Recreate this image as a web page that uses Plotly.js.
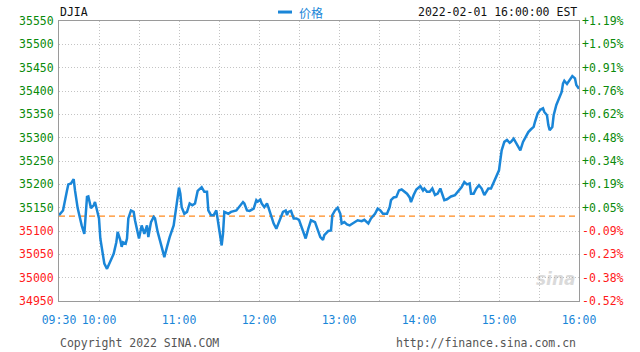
<!DOCTYPE html>
<html>
<head>
<meta charset="utf-8">
<script src="https://cdn.plot.ly/plotly-3.0.1.min.js"></script>
<style>html,body{margin:0;padding:0;background:#fff;}#chart{width:640px;height:352px;}</style>
</head>
<body>
<div id="chart"></div>
<script>
const tradeDate = '2022-02-01';
const prevClose = 35131.86;
const times = [
'09:30','09:33','09:36','09:37','09:39','09:41','09:42','09:44','09:47','09:49','09:51','09:52','09:54','09:56','09:57','09:58',
'10:00','10:01','10:03','10:04','10:06','10:08','10:11','10:13','10:14','10:16','10:17','10:18','10:20','10:21','10:22','10:24','10:26','10:27','10:29',
'10:30','10:32','10:34','10:36','10:37','10:39','10:41','10:42','10:44','10:47','10:49','10:51','10:53','10:56','10:57','10:59',
'11:00','11:01','11:02','11:04','11:06','11:08','11:10','11:12','11:14','11:17','11:19','11:21','11:22','11:24','11:26','11:28','11:29',
'11:31','11:32','11:33','11:34','11:37','11:39','11:43','11:46','11:48','11:49','11:51','11:53','11:56','11:58','11:59',
'12:01','12:02','12:04','12:06','12:07','12:09','12:11','12:13','12:14','12:16','12:18','12:20','12:21','12:22','12:24','12:26','12:28',
'12:30','12:32','12:34','12:35','12:37','12:39','12:42','12:44','12:46','12:48','12:49','12:52','12:54','12:55','12:57','12:59',
'13:01','13:02','13:04','13:06','13:08','13:09','13:12','13:14','13:17','13:19','13:22','13:24','13:27','13:29',
'13:31','13:33','13:36','13:38','13:39','13:41','13:43','13:45','13:47','13:49','13:51','13:53','13:54','13:56','13:58',
'14:01','14:03','14:04','14:06','14:08','14:10','14:12','14:14','14:16','14:17','14:19','14:21','14:23','14:24','14:27','14:29',
'14:32','14:34','14:36','14:38','14:39','14:41','14:43','14:45','14:47','14:49','14:52','14:54','14:56','14:58',
'15:00','15:01','15:02','15:04','15:06','15:08','15:09','15:11','15:13','15:16','15:18','15:20','15:22','15:24','15:26','15:27','15:29',
'15:31','15:33','15:34','15:36','15:37','15:38','15:40','15:41','15:43','15:45','15:47','15:48','15:49','15:51','15:53','15:55','15:57','15:58','16:00'
];
const prices = [
35134,35144,35187,35200,35202,35211,35187,35149,35112,35094,35173,35174,35149,35155,35162,35149,
35127,35084,35052,35030,35019,35033,35051,35076,35098,35080,35066,35076,35073,35084,35127,35144,35141,35123,35098,
35084,35112,35094,35112,35087,35119,35130,35127,35098,35066,35044,35066,35087,35112,35134,35173,
35193,35180,35151,35137,35141,35159,35155,35159,35186,35194,35184,35184,35144,35134,35134,35144,35123,
35087,35069,35094,35141,35137,35141,35144,35155,35162,35159,35144,35143,35148,35166,35163,
35167,35159,35151,35159,35151,35134,35116,35105,35112,35123,35141,35144,35134,35141,35143,35127,35127,
35124,35109,35091,35084,35105,35123,35119,35101,35087,35081,35091,35100,35101,35134,35144,35150,
35137,35116,35119,35114,35112,35114,35119,35123,35121,35124,35116,35127,35137,35148,
35144,35137,35137,35151,35166,35172,35173,35187,35189,35184,35180,35172,35162,35177,35189,
35196,35187,35191,35184,35184,35191,35177,35180,35191,35184,35166,35168,35172,35174,35177,35184,
35194,35205,35200,35202,35180,35180,35191,35198,35191,35177,35191,35191,35205,35215,
35230,35252,35273,35291,35295,35289,35291,35298,35288,35273,35291,35303,35312,35318,35323,35334,35352,
35360,35363,35355,35348,35327,35316,35323,35348,35370,35384,35398,35416,35422,35415,35423,35432,35427,35413,35405
];
const priceTicks = [34950,35000,35050,35100,35150,35200,35250,35300,35350,35400,35450,35500,35550];
const pctLabels = ['-0.52%','-0.38%','-0.23%','-0.09%','+0.05%','+0.19%','+0.34%','+0.48%','+0.62%','+0.76%','+0.91%','+1.05%','+1.19%'];
const timeTicks = ['09:30','10:00','10:30','11:00','11:30','12:00','12:30','13:00','13:30','14:00','14:30','15:00','15:30','16:00'];
const timeLabels = ['09:30','10:00','','11:00','','12:00','','13:00','','14:00','','15:00','','16:00'];

const GREEN = '#0a8a0a', RED = '#ff1a1a', BLUE = '#1a86d8';
const FONT = 'DejaVu Sans Mono, Liberation Mono, monospace';
const xs = times.map(t => tradeDate + ' ' + t);
const leftText = priceTicks.map(v => '<span style="color:' + (v > prevClose ? GREEN : RED) + '">' + v + '</span>');
const rightText = pctLabels.map(s => '<span style="color:' + (s[0] === '+' ? GREEN : RED) + '">' + s + '</span>');

const trace = {x: xs, y: prices, type: 'scatter', mode: 'lines', line: {color: BLUE, width: 2.5}, hoverinfo: 'skip', showlegend: false};
const ghost = {x: xs, y: prices, type: 'scatter', mode: 'lines', yaxis: 'y2', line: {color: 'rgba(0,0,0,0)', width: 0}, hoverinfo: 'skip', showlegend: false};

const grid = {gridcolor: '#c4c4c4', griddash: '1px,2px', gridwidth: 1};
const layout = {
  width: 640, height: 352,
  margin: {l: 59, r: 61, t: 21, b: 51, pad: 0},
  paper_bgcolor: '#fff', plot_bgcolor: '#fff',
  font: {family: FONT, size: 11.5, color: '#222'},
  showlegend: false,
  xaxis: Object.assign({
    type: 'date', range: [tradeDate + ' 09:30', tradeDate + ' 16:00'],
    tickmode: 'array', tickvals: timeTicks.map(t => tradeDate + ' ' + t), ticktext: timeLabels,
    tickfont: {color: BLUE, family: FONT, size: 11.5}, ticks: '', ticklabelstandoff: 8,
    showline: true, linecolor: '#9a9a9a', linewidth: 1, mirror: true, zeroline: false, fixedrange: true
  }, grid),
  yaxis: Object.assign({
    range: [34950, 35550], tickmode: 'array', tickvals: priceTicks, ticktext: leftText,
    tickfont: {family: FONT, size: 11.5}, ticks: '', ticklabelstandoff: 2,
    showline: true, linecolor: '#9a9a9a', linewidth: 1, mirror: true, zeroline: false, fixedrange: true
  }, grid),
  yaxis2: {
    overlaying: 'y', side: 'right', range: [34950, 35550], tickmode: 'array', tickvals: priceTicks, ticktext: rightText,
    tickfont: {family: FONT, size: 11.5}, ticks: '', ticklabelstandoff: 2, showgrid: false, zeroline: false, showline: false, fixedrange: true
  },
  shapes: [
    {type: 'line', xref: 'paper', x0: 0, x1: 1, yref: 'y', y0: prevClose, y1: prevClose, line: {color: '#ff8a1e', width: 1.3, dash: '6px,4px'}, layer: 'below'},
    {type: 'line', xref: 'paper', x0: 0.4212, x1: 0.4481, yref: 'paper', y0: 1.032, y1: 1.032, line: {color: BLUE, width: 3}}
  ],
  annotations: [
    {text: 'DJIA', xref: 'paper', yref: 'paper', x: -0.002, y: 1, xanchor: 'left', yanchor: 'middle', yshift: 9, showarrow: false, font: {family: FONT, size: 11.5, color: '#111'}},
    {text: '价格', xref: 'paper', yref: 'paper', x: 0.4577, y: 1, xanchor: 'left', yanchor: 'middle', yshift: 9, showarrow: false, font: {family: 'Noto Sans CJK SC', size: 12, color: BLUE}},
    {text: '2022-02-01 16:00:00 EST', xref: 'paper', yref: 'paper', x: 1, y: 1, xanchor: 'right', yanchor: 'middle', yshift: 9, showarrow: false, font: {family: FONT, size: 11.5, color: '#111'}},
    {text: 'Copyright 2022 SINA.COM', xref: 'paper', yref: 'paper', x: -0.002, y: 0, xanchor: 'left', yanchor: 'middle', yshift: -42, showarrow: false, font: {family: FONT, size: 11.5, color: '#555'}},
    {text: 'http://finance.sina.com.cn', xref: 'paper', yref: 'paper', x: 0.998, y: 0, xanchor: 'right', yanchor: 'middle', yshift: -42, showarrow: false, font: {family: FONT, size: 11.5, color: '#555'}},
    {text: '<i><b>sina</b></i>', xref: 'paper', yref: 'paper', x: 0.955, y: 0.08, xanchor: 'center', yanchor: 'middle', showarrow: false, opacity: 0.3, font: {family: 'DejaVu Sans', size: 17, color: '#888'}}
  ]
};
Plotly.newPlot('chart', [trace, ghost], layout, {staticPlot: true, displayModeBar: false});
</script>
</body>
</html>
